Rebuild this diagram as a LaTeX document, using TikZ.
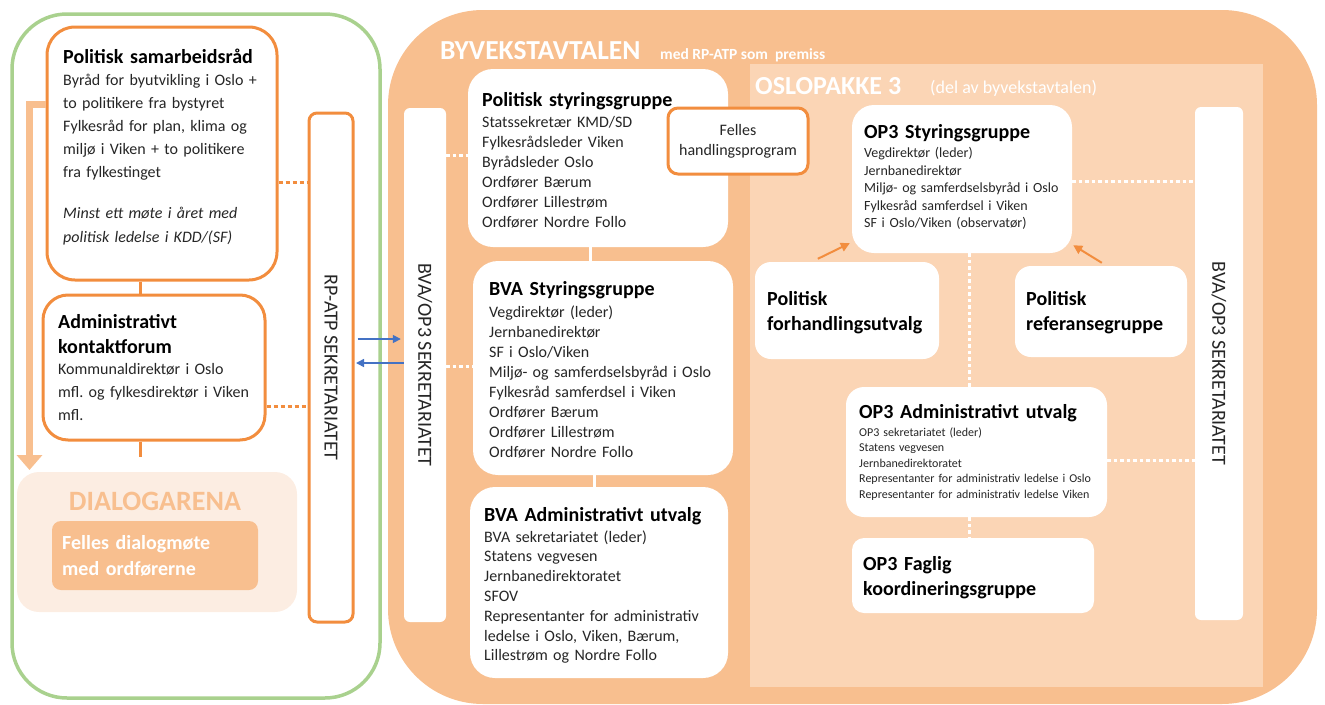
\documentclass[tikz,border=0pt]{standalone}
\usepackage{fontspec}
\setmainfont{Carlito}
\usetikzlibrary{fit,calc,arrows.meta}
\definecolor{orF}{RGB}{248,191,143}
\definecolor{orL}{RGB}{251,213,181}
\definecolor{orB}{RGB}{242,141,62}
\definecolor{grB}{RGB}{169,209,142}
\definecolor{diaBg}{RGB}{252,237,226}
\definecolor{bluA}{RGB}{68,114,196}
\definecolor{txtC}{RGB}{38,38,38}
\frenchspacing
\tikzset{
  area/.style={inner sep=0pt},
  obox/.style={draw=orB, line width=3pt, fill=white, inner sep=0pt},
  wbox/.style={fill=white, inner sep=0pt},
  ttl/.style={anchor=base west, inner sep=0pt, text width=300pt, align=left, text=black, font=\fontsize{20}{25}\selectfont\bfseries},
  bod/.style={anchor=base west, inner sep=0pt, text width=300pt, align=left, text=txtC},
  vtxt/.style={rotate=-90, inner sep=0pt, text=txtC, font=\fontsize{20}{22}\selectfont},
  oline/.style={draw=orB, line width=3pt},
  wline/.style={draw=white, line width=3pt},
  odot/.style={draw=orB, line width=3pt, dash pattern=on 4pt off 3pt},
  wdot/.style={draw=white, line width=3pt, dash pattern=on 3.5pt off 3pt},
  barr/.style={draw=bluA, line width=1.5pt, -{Triangle[length=8pt,width=8pt]}},
  oarr/.style={draw=orB, line width=2pt, -{Triangle[length=9pt,width=9pt]}},
  bigarr/.style={draw=orF, line width=7pt, -{Triangle[length=15pt,width=25pt]}}
}
\begin{document}
\begin{tikzpicture}[x=1pt,y=-1pt]
\useasboundingbox (0,0) rectangle (1325,704);

% ---------- background regions ----------
\node[area, fit={(388,10) (1317,704)}, fill=orF, rounded corners=95pt] (byv) {};
\node[area, fit={(750,64) (1263,687)}, fill=orL] (op3) {};
\node[area, fit={(12,14) (380,698)}, draw=grB, line width=3.5pt, rounded corners=55pt] (frame) {};

\node[anchor=base west, inner sep=0pt, text=white, font=\fontsize{27.5}{30}\selectfont\bfseries] (byvt) at (440,59) {BYVEKSTAVTALEN};
\node[anchor=base west, inner sep=0pt, text=white, font=\fontsize{15.5}{18}\selectfont\bfseries] (byvs) at (660,59) {med RP-ATP som~~premiss};
\node[anchor=base west, inner sep=0pt, text=white, font=\fontsize{26}{28}\selectfont\bfseries] (op3t) at (755,94) {OSLOPAKKE 3};
\node[anchor=base west, inner sep=0pt, text=white, font=\fontsize{18}{20}\selectfont] (op3s) at (930,93) {(del av byvekstavtalen)};

% ---------- left column ----------
\node[obox, fit={(47,27) (277,280)}, rounded corners=28pt] (psr) {};
\node[ttl] (psr-t) at (63,63) {Politisk samarbeidsråd};
\node[bod, font=\fontsize{16}{23}\selectfont] (psr-b) at (63,85) {Byråd for byutvikling i Oslo +\\to politikere fra bystyret\\Fylkesråd for plan, klima og\\miljø i Viken + to politikere\\fra fylkestinget};
\node[bod, font=\fontsize{16}{24}\selectfont\itshape] (psr-i) at (63,218) {Minst ett møte i året med\\politisk ledelse i KDD/(SF)};

\node[obox, fit={(43,295) (265,440)}, rounded corners=25pt] (akf) {};
\node[ttl] (akf-t) at (58,328) {Administrativt\\kontaktforum};
\node[bod, font=\fontsize{16}{23}\selectfont] (akf-b) at (58,374) {Kommunaldirektør i Oslo\\mfl. og fylkesdirektør i Viken\\mfl.};

\node[area, fit={(17,472) (297,612)}, fill=diaBg, rounded corners=22pt] (dia) {};
\node[anchor=base, inner sep=0pt, text=orF, font=\fontsize{28}{30}\selectfont\bfseries] (dia-t) at (155,510) {DIALOGARENA};
\node[area, fit={(52,521) (258,590)}, fill=orF, rounded corners=9pt] (fdm) {};
\node[bod, text=white, font=\fontsize{20}{26}\selectfont\bfseries] (fdm-t) at (62,549) {Felles dialogmøte\\med ordførerne};

\node[obox, fit={(309,113) (353,622)}, rounded corners=8pt] (rp) {};
\node[vtxt] (rp-t) at (rp.center) {RP-ATP SEKRETARIATET};

% ---------- BVA column ----------
\node[wbox, fit={(404,108) (446,622)}, rounded corners=6pt] (bvl) {};
\node[vtxt] (bvl-t) at (bvl.center) {BVA/OP3 SEKRETARIATET};

\node[wbox, fit={(468,69) (728,247)}, rounded corners=25pt] (psg) {};
\node[ttl] (psg-t) at (482,106) {Politisk styringsgruppe};
\node[bod, font=\fontsize{16}{20}\selectfont] (psg-b) at (482,127) {Statssekretær KMD/SD\\Fylkesrådsleder Viken\\Byrådsleder Oslo\\Ordfører Bærum\\Ordfører Lillestrøm\\Ordfører Nordre Follo};

\node[wbox, fit={(473,261) (733,475)}, rounded corners=25pt] (bvs) {};
\node[ttl] (bvs-t) at (489,295) {BVA Styringsgruppe};
\node[bod, font=\fontsize{16}{20}\selectfont] (bvs-b) at (489,317) {Vegdirektør (leder)\\Jernbanedirektør\\SF i Oslo/Viken\\Miljø- og samferdselsbyråd i Oslo\\Fylkesråd samferdsel i Viken\\Ordfører Bærum\\Ordfører Lillestrøm\\Ordfører Nordre Follo};

\node[wbox, fit={(470,487) (728,678)}, rounded corners=25pt] (bva) {};
\node[ttl] (bva-t) at (484,521) {BVA Administrativt utvalg};
\node[bod, font=\fontsize{16}{19.8}\selectfont] (bva-b) at (484,542) {BVA sekretariatet (leder)\\Statens vegvesen\\Jernbanedirektoratet\\SFOV\\Representanter for administrativ\\ledelse i Oslo, Viken, Bærum,\\Lillestrøm og Nordre Follo};

\node[obox, fit={(668,108) (808,174)}, rounded corners=10pt] (fhp) {};
\node[inner sep=0pt, align=center, text=txtC, font=\fontsize{16}{20}\selectfont] (fhp-t) at (fhp.center) {Felles\\handlingsprogram};

% ---------- OP3 ----------
\node[wbox, fit={(1195,107) (1243,620)}, rounded corners=6pt] (bvr) {};
\node[vtxt] (bvr-t) at (bvr.center) {BVA/OP3 SEKRETARIATET};

\node[wbox, fit={(852,105) (1072,253)}, rounded corners=22pt] (o3s) {};
\node[ttl] (o3s-t) at (864,138) {OP3 Styringsgruppe};
\node[bod, font=\fontsize{14}{17.5}\selectfont] (o3s-b) at (864,157.5) {Vegdirektør (leder)\\Jernbanedirektør\\Miljø- og samferdselsbyråd i Oslo\\Fylkesråd samferdsel i Viken\\SF i Oslo/Viken (observatør)};

\node[wbox, fit={(755,262) (939,359)}, rounded corners=16pt] (pfu) {};
\node[ttl] (pfu-t) at (767,305) {Politisk\\forhandlingsutvalg};

\node[wbox, fit={(1015,266) (1187,357)}, rounded corners=16pt] (prg) {};
\node[ttl] (prg-t) at (1026,305) {Politisk\\referansegruppe};

\node[wbox, fit={(846,387) (1107,517)}, rounded corners=18pt] (o3a) {};
\node[ttl] (o3a-t) at (859,418) {OP3 Administrativt utvalg};
\node[bod, font=\fontsize{12}{15.5}\selectfont] (o3a-b) at (859,436) {OP3 sekretariatet (leder)\\Statens vegvesen\\Jernbanedirektoratet\\Representanter for administrativ ledelse i Oslo\\Representanter for administrativ ledelse Viken};

\node[wbox, fit={(852,538) (1094,613)}, rounded corners=12pt] (o3f) {};
\node[ttl] (o3f-t) at (863,570) {OP3 Faglig\\koordineringsgruppe};

% ---------- helper coordinates ----------
\coordinate (vx140) at (140,0);
\coordinate (akfend) at (140,457);
\coordinate (ya) at (0,104);
\coordinate (arrend) at (29.5,470);
\coordinate (hd1) at (0,182);
\coordinate (hd2) at (0,406);
\coordinate (hb1) at (0,339);
\coordinate (hb2) at (0,363);
\coordinate (hw1) at (0,155);
\coordinate (hw2) at (0,366);
\coordinate (vx590) at (590,0);
\coordinate (vx594) at (594,0);
\coordinate (hr1) at (0,181);
\coordinate (hr2) at (0,460);
\coordinate (vx969) at (969,0);

% ---------- connectors ----------
\draw[oline] (vx140 |- psr.south) -- (vx140 |- akf.north);
\draw[oline] (vx140 |- akf.south) -- (akfend);
\draw[bigarr, line join=miter] (psr.west |- ya) -| (arrend);
\draw[odot] (psr.east |- hd1) -- (rp.west |- hd1);
\draw[odot] (akf.east |- hd2) -- (rp.west |- hd2);
\draw[barr, shorten <=3pt, shorten >=3pt] (rp.east |- hb1) -- (bvl.west |- hb1);
\draw[barr, shorten >=1.5pt] (bvl.west |- hb2) -- (rp.east |- hb2);
\draw[wdot] (bvl.east |- hw1) -- (psg.west |- hw1);
\draw[wdot] (bvl.east |- hw2) -- (bvs.west |- hw2);
\draw[wline] (vx590 |- psg.south) -- (vx590 |- bvs.north);
\draw[wline] (vx594 |- bvs.south) -- (vx594 |- bva.north);
\draw[wdot] (o3s.east |- hr1) -- (bvr.west |- hr1);
\draw[wdot] (o3a.east |- hr2) -- (bvr.west |- hr2);
\draw[wdot] (vx969 |- o3s.south) -- (vx969 |- o3a.north);
\draw[wdot] (vx969 |- o3a.south) -- (vx969 |- o3f.north);
\draw[oarr] ($(pfu.north west)+(63,-3)$) -- ($(o3s.south west)+(-2,-10)$);
\draw[oarr] ($(prg.north west)+(87,-3)$) -- ($(o3s.south east)+(1,-8)$);
\end{tikzpicture}
\end{document}
